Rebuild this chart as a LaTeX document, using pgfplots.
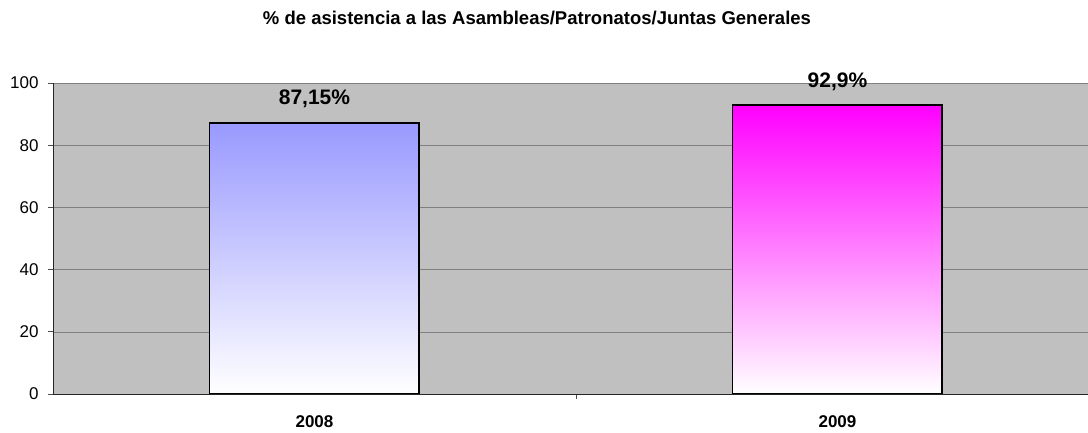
\documentclass[border=0pt]{standalone}
\usepackage{pgfplots}
\pgfplotsset{compat=1.18}
\usepackage{fontspec}
\setmainfont{Liberation Sans}
\definecolor{bgGray}{RGB}{192,192,192}
\definecolor{gridGray}{RGB}{128,128,128}
\definecolor{blueTop}{RGB}{153,153,255}
\definecolor{magTop}{RGB}{255,0,255}
\begin{document}
\begin{tikzpicture}
\path[use as bounding box] (0,0) rectangle (1088bp,433bp);
\node[font=\fontsize{18.5bp}{21bp}\selectfont\bfseries] at (537bp,415bp) {\% de asistencia a las Asambleas/Patronatos/Juntas Generales};
\begin{axis}[
  at={(53bp,39bp)}, anchor=south west,
  scale only axis, width=1035bp, height=311bp,
  xmin=-0.5, xmax=1.479, ymin=0, ymax=100,
  axis background/.style={fill=bgGray},
  axis x line*=bottom, axis y line*=left,
  axis line style={black!85, line width=0.8pt},
  ytick={0,20,...,100},
  ymajorgrids, grid style={gridGray, line width=0.6pt},
  xtick={0.5}, xticklabels={},
  extra x ticks={0,1}, extra x tick labels={2008,2009},
  extra x tick style={major tick length=0pt, xticklabel style={yshift=-18bp}},
  tick align=outside, major tick length=5bp,
  tick style={black!70, line width=0.8pt},
  ticklabel style={font=\fontsize{17bp}{19bp}\selectfont},
  yticklabel style={xshift=-6bp},
  xticklabel style={font=\fontsize{17bp}{19bp}\selectfont\bfseries},
  /pgf/number format/assume math mode=true,
  ybar, bar width=0.40,
  nodes near coords,
  every node near coord/.append style={font=\fontsize{21bp}{23bp}\selectfont\bfseries, anchor=base, yshift=18bp},
]
\addplot[bar shift=0pt, draw=black, line width=1.2pt, top color=blueTop, bottom color=white, nodes near coords={87,15\%}] coordinates {(0,87.15)};
\addplot[bar shift=0pt, draw=black, line width=1.2pt, top color=magTop, bottom color=white, nodes near coords={92,9\%}] coordinates {(1,92.9)};
\end{axis}
\end{tikzpicture}
\end{document}
